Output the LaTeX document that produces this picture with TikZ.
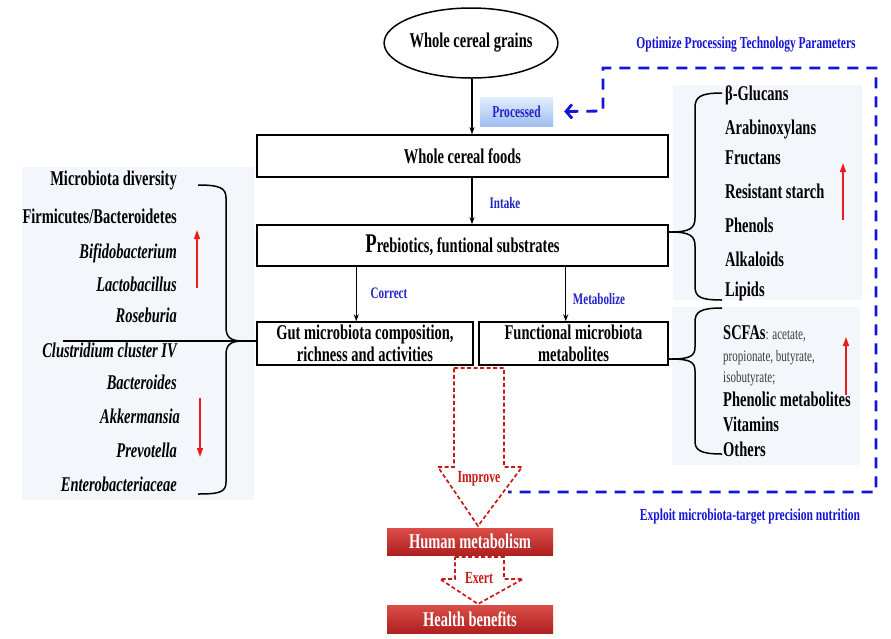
\documentclass[tikz,border=0pt]{standalone}
\usepackage{fontspec}
\setmainfont{Liberation Serif}[FakeStretch=0.69]
\usetikzlibrary{arrows.meta,shapes.geometric}
\definecolor{panel}{RGB}{243,246,250}
\definecolor{lblue}{RGB}{35,35,200}
\definecolor{dblue}{RGB}{20,20,215}
\definecolor{redarr}{RGB}{232,30,30}
\definecolor{dred}{RGB}{200,25,25}
\definecolor{sgray}{RGB}{60,60,60}
\begin{document}
\begin{tikzpicture}[x=1pt,y=-1pt,
  mainf/.style={font=\fontsize{21}{21.5}\selectfont\bfseries},
  box/.style={draw, line width=1.5pt, mainf, inner sep=0pt, align=center},
  blbl/.style={text=lblue, font=\fontsize{16}{16}\selectfont\bfseries},
  ttl/.style={text=dblue, font=\fontsize{16.7}{16.7}\selectfont\bfseries},
  arr/.style={line width=1.1pt, -{Stealth[length=7pt,width=5pt]}},
  redup/.style={draw=redarr, line width=1.5pt, -{Triangle[length=9pt,width=6pt]}, color=redarr},
  bluedash/.style={draw=dblue, line width=2.8pt, dash pattern=on 11pt off 8pt},
  brace/.style={line width=1.5pt},
  ltxt/.style={mainf, anchor=mid east, inner sep=0pt},
  rtxt/.style={mainf, anchor=mid west, inner sep=0pt},
  blockarr/.style={draw=dred, fill=white, line width=1.7pt, dash pattern=on 4pt off 2.5pt, line join=miter},
  redbox/.style={top color={rgb,255:red,218;green,78;blue,72}, bottom color={rgb,255:red,175;green,32;blue,32}, text=white, mainf, inner sep=0pt},
  redlbl/.style={text=dred, font=\fontsize{17}{17}\selectfont\bfseries}
]
\useasboundingbox (0,0) rectangle (891,638);
\fill[white] (0,0) rectangle (891,638);

% panels
\fill[panel] (22,167) rectangle (254,500);
\fill[panel] (673,85) rectangle (862,300);
\fill[panel] (672,307) rectangle (860,465);

% main flow
\node[ellipse, draw, line width=1.5pt, minimum width=171pt, minimum height=70pt, mainf, inner sep=0pt] (grains) at (471,43) {Whole cereal grains};
\node[top color={rgb,255:red,228;green,237;blue,252}, bottom color={rgb,255:red,158;green,190;blue,240}, minimum width=73pt, minimum height=29pt, inner sep=0pt, text=lblue, font=\fontsize{16.7}{16.7}\selectfont\bfseries] (proc) at (516.5,111.5) {Processed};
\node[box, minimum width=411pt, minimum height=42pt] (foods) at (462.5,156) {Whole cereal foods};
\node[box, minimum width=411pt, minimum height=41pt] (prebio) at (462.5,245.5) {{\fontsize{27}{27}\selectfont P}rebiotics, funtional substrates};
\node[box, minimum width=216pt, minimum height=43pt] (gut) at (365,343.5) {Gut microbiota composition,\\richness and activities};
\node[box, minimum width=189pt, minimum height=43pt] (func) at (573.5,343.5) {Functional microbiota\\metabolites};

\coordinate (axis) at (472,0);
\draw[arr] (grains.south -| axis) -- (axis |- foods.north);
\draw[arr] (axis |- foods.south) -- (axis |- prebio.north);
\draw[arr] ([xshift=100pt]prebio.south west) -- ([xshift=100pt]gut.north west);
\draw[arr] ([xshift=-103pt]prebio.south east) -- ([xshift=-103pt]func.north east);

\node[blbl] (lintake) at (505,203) {Intake};
\node[blbl] (lcorrect) at (389,293) {Correct};
\node[blbl] (lmetab) at (599,299) {Metabolize};

% blue dashed feedback loop
\coordinate (dashend) at (508,492);
\draw[bluedash, {Straight Barb[length=6pt,width=14pt]}-, line join=miter] ([xshift=11pt]proc.east) -- (603,111) -- (603,68) -- (876,68) -- (876,492) -- (dashend);
\node[ttl] (topt) at (746,45) {Optimize Processing Technology Parameters};
\node[ttl] (texp) at (750,517) {Exploit microbiota-target precision nutrition};

% left list
\node[ltxt] (m1) at (177,183) {Microbiota diversity};
\node[ltxt] (m2) at (177,221) {Firmicutes/Bacteroidetes};
\node[ltxt, font=\fontsize{21}{21.5}\selectfont\bfseries\itshape] (m3) at (177,256) {Bifidobacterium};
\node[ltxt, font=\fontsize{21}{21.5}\selectfont\bfseries\itshape] (m4) at (177,289) {Lactobacillus};
\node[ltxt, font=\fontsize{21}{21.5}\selectfont\bfseries\itshape] (m5) at (177,320) {Roseburia};
\node[ltxt, font=\fontsize{21}{21.5}\selectfont\bfseries\itshape] (m6) at (177,355) {Clustridium cluster IV};
\node[ltxt, font=\fontsize{21}{21.5}\selectfont\bfseries\itshape] (m7) at (177,387) {Bacteroides};
\node[ltxt, font=\fontsize{21}{21.5}\selectfont\bfseries\itshape] (m8) at (180,421) {Akkermansia};
\node[ltxt, font=\fontsize{21}{21.5}\selectfont\bfseries\itshape] (m9) at (177,455) {Prevotella};
\node[ltxt, font=\fontsize{21}{21.5}\selectfont\bfseries\itshape] (m10) at (177,489) {Enterobacteriaceae};
\draw[redup] (197,288) -- (197,230);
\draw[redup] (200,398) -- (200,457);

\draw[brace] (198,185) .. controls (220,185) and (226,188) .. (226,198) -- (226,327) .. controls (226,337) and (230,341) .. (243,341) .. controls (230,341) and (226,345) .. (226,355) -- (226,482) .. controls (226,492) and (220,494) .. (198,494);
\draw[brace] (63,341) -- ([yshift=2.5pt]gut.west);

% right upper list
\node[rtxt] (p1) at (725,98) {β-Glucans};
\node[rtxt] (p2) at (725,132) {Arabinoxylans};
\node[rtxt] (p3) at (725,162) {Fructans};
\node[rtxt] (p4) at (725,196) {Resistant starch};
\node[rtxt] (p5) at (725,230) {Phenols};
\node[rtxt] (p6) at (725,264) {Alkaloids};
\node[rtxt] (p7) at (725,294) {Lipids};
\draw[redup] (843,220) -- (843,163);
\draw[brace] (722,93) .. controls (700,93) and (695,97) .. (695,108) -- (695,218) .. controls (695,228) and (690,232) .. (671,232) .. controls (690,232) and (695,236) .. (695,246) -- (695,286) .. controls (695,297) and (700,300) .. (722,300);
\draw[brace] (671,232) -- ([yshift=13.5pt]prebio.east);

% right lower list
\node[rtxt] (s1) at (723,337) {SCFAs{\fontsize{16}{16}\selectfont\mdseries\color{sgray}: acetate,}};
\node[rtxt, font=\fontsize{16}{16}\selectfont, text=sgray] (s2) at (723,359) {propionate, butyrate,};
\node[rtxt, font=\fontsize{16}{16}\selectfont, text=sgray] (s3) at (723,380) {isobutyrate;};
\node[rtxt] (s4) at (723,404) {Phenolic metabolites};
\node[rtxt] (s5) at (723,429) {Vitamins};
\node[rtxt] (s6) at (723,454) {Others};
\draw[redup] (846,395) -- (846,337);
\draw[brace] (722,308) .. controls (700,308) and (695,312) .. (695,322) -- (695,347) .. controls (695,356) and (690,359) .. (671,359) .. controls (690,359) and (695,362) .. (695,371) -- (695,441) .. controls (695,450) and (700,454) .. (722,454);
\draw[brace] (671,359) -- ([yshift=-15.5pt]func.east);

% bottom
\node[redbox, minimum width=166pt, minimum height=27pt] (human) at (470,541.5) {Human metabolism};
\node[redbox, minimum width=166pt, minimum height=28pt] (health) at (470,619) {Health benefits};
\draw[blockarr] (454,368) -- (504,368) -- (504,467) -- (522,467) -- (478,526) -- (438,467) -- (454,467) -- cycle;
\draw[blockarr] (455,557) -- (504,557) -- (504,579) -- (523,579) -- (478,604) -- (440,579) -- (455,579) -- cycle;
\node[redlbl] (limp) at (479,479) {Improve};
\node[redlbl] (lexe) at (479,578) {Exert};
\end{tikzpicture}
\end{document}
